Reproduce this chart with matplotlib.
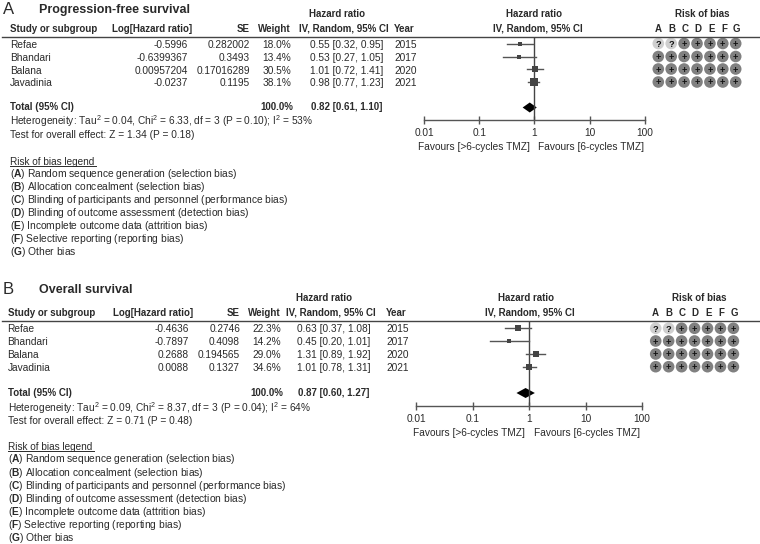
import matplotlib
matplotlib.use("Agg")
import matplotlib.pyplot as plt
from matplotlib.patches import Circle

plt.rcParams['font.family'] = ['Liberation Sans', 'DejaVu Sans']
plt.rcParams['mathtext.fontset'] = 'custom'
plt.rcParams['mathtext.rm'] = 'Liberation Sans'
plt.rcParams['mathtext.bf'] = 'Liberation Sans:bold'
plt.rcParams['mathtext.default'] = 'regular'

studies = ["Refae", "Bhandari", "Balana", "Javadinia"]
years = ["2015", "2017", "2020", "2021"]

pfs_log = ["-0.5996", "-0.6399367", "0.00957204", "-0.0237"]
pfs_se = ["0.282002", "0.3493", "0.17016289", "0.1195"]
pfs_weight = [18.0, 13.4, 30.5, 38.1]
pfs_hr = [0.55, 0.53, 1.01, 0.98]
pfs_lo = [0.32, 0.27, 0.72, 0.77]
pfs_hi = [0.95, 1.05, 1.41, 1.23]
pfs_total = [0.82, 0.61, 1.10]
pfs_het = r"Heterogeneity: Tau$^2$ = 0.04, Chi$^2$ = 6.33, df = 3 (P = 0.10); I$^2$ = 53%"
pfs_test = "Test for overall effect: Z = 1.34 (P = 0.18)"

os_log = ["-0.4636", "-0.7897", "0.2688", "0.0088"]
os_se = ["0.2746", "0.4098", "0.194565", "0.1327"]
os_weight = [22.3, 14.2, 29.0, 34.6]
os_hr = [0.63, 0.45, 1.31, 1.01]
os_lo = [0.37, 0.20, 0.89, 0.78]
os_hi = [1.08, 1.01, 1.92, 1.31]
os_total = [0.87, 0.60, 1.27]
os_het = r"Heterogeneity: Tau$^2$ = 0.09, Chi$^2$ = 8.37, df = 3 (P = 0.04); I$^2$ = 64%"
os_test = "Test for overall effect: Z = 0.71 (P = 0.48)"

rob_letters = ["A", "B", "C", "D", "E", "F", "G"]
rob_rows = ["??+++++", "+++++++", "+++++++", "+++++++"]
legend_items = [
    ("A", "Random sequence generation (selection bias)"),
    ("B", "Allocation concealment (selection bias)"),
    ("C", "Blinding of participants and personnel (performance bias)"),
    ("D", "Blinding of outcome assessment (detection bias)"),
    ("E", "Incomplete outcome data (attrition bias)"),
    ("F", "Selective reporting (reporting bias)"),
    ("G", "Other bias"),
]
ticks = [0.01, 0.1, 1, 10, 100]
tick_labels = ["0.01", "0.1", "1", "10", "100"]

W, H = 760, 544
TXT = "#2a2a2a"
FS = 7.3
BOLD_FS = 7.05
LEG_FS = 7.4

fig = plt.figure(figsize=(W / 100, H / 100), dpi=100)
base = fig.add_axes([0, 0, 1, 1])
base.set_xlim(0, W)
base.set_ylim(H, 0)
base.axis("off")


def put(x, y, s, ha="left", bold=False, size=None):
    if size is None:
        size = BOLD_FS if bold else FS
    base.text(x, y, s, ha=ha, va="center", fontsize=size, color=TXT,
              fontweight="bold" if bold else "normal")


def panel(letter, title, log_hr, se, weight, hr, lo, hi, total, het, test, p):
    put(3, p["title_y"], letter, size=12)
    put(39, p["title_y"], title, bold=True, size=9.0)

    # table headers
    hy = p["head_y"]
    put(p["study_x"], hy, "Study or subgroup", bold=True)
    put(p["log_x"] + 4, hy, "Log[Hazard ratio]", ha="right", bold=True)
    put(p["se_x"], hy, "SE", ha="right", bold=True)
    put(p["wt_x"], hy, "Weight", ha="right", bold=True)
    put(p["hr_x"] - 10, p["top_y"], "Hazard ratio", ha="center", bold=True)
    put(p["hr_x"] - 3, hy, "IV, Random, 95% CI", ha="center", bold=True)
    put(p["yr_x"], hy, "Year", bold=True)
    put(p["fhr_x"] - 2, p["top_y"], "Hazard ratio", ha="center", bold=True)
    put(p["fhr_x"] + 2, hy, "IV, Random, 95% CI", ha="center", bold=True)
    put(p["rob_x"], p["top_y"], "Risk of bias", ha="center", bold=True)
    base.plot([2, W], [p["line_y"]] * 2, color="#444444", lw=1.0)

    # study rows
    for i, name in enumerate(studies):
        y = p["rows"][i] + 1
        put(p["study_x"], y, name)
        put(p["log_x"], y, log_hr[i], ha="right")
        put(p["se_x"], y, se[i], ha="right")
        put(p["wt_x"], y, "%.1f%%" % weight[i], ha="right")
        put(p["hr_x"], y, "%.2f [%.2f, %.2f]" % (hr[i], lo[i], hi[i]), ha="center")
        put(p["yr_x"], y, years[i])

    # total and notes
    ty = p["total_y"]
    put(p["study_x"], ty, "Total (95% CI)", bold=True)
    put(p["wt_x"] + 2, ty, "100.0%", ha="right", bold=True)
    put(p["hr_x"], ty, "%.2f [%.2f, %.2f]" % tuple(total), ha="center", bold=True)
    put(p["study_x"], p["het_y"], het)
    put(p["study_x"], p["test_y"], test)

    # risk of bias grid
    for x, s in zip(p["letter_x"], rob_letters):
        put(x, hy, s, ha="center", bold=True)
    for r, row in enumerate(rob_rows):
        for c, s in enumerate(row):
            x = p["circ_x"] + c * p["circ_dx"]
            y = p["circ_y"][r]
            col = "#cfcfcf" if s == "?" else "#808080"
            base.add_patch(Circle((x, y), 5.8, fc=col, ec="none"))
            base.text(x, y, s, ha="center", va="center_baseline", fontsize=6.6,
                      fontweight="bold", color="#111111")

    # forest plot
    left = p["x001"] / W
    width = (p["x100"] - p["x001"]) / W
    bottom = 1 - p["axis_y"] / H
    height = (p["axis_y"] - p["line_y"]) / H
    ax = fig.add_axes([left, bottom, width, height])
    ax.patch.set_alpha(0)
    ax.set_xscale("log")
    ax.set_xlim(0.01, 100)
    ax.set_ylim(p["axis_y"], p["line_y"])
    for s in ["top", "left", "right"]:
        ax.spines[s].set_visible(False)
    ax.spines["bottom"].set_color("#555555")
    ax.spines["bottom"].set_linewidth(1.0)
    ax.set_yticks([])
    ax.set_xticks(ticks)
    ax.set_xticklabels(tick_labels, fontsize=FS, color=TXT)
    ax.minorticks_off()
    ax.tick_params(axis="x", direction="inout", length=6, width=1.0,
                   color="#555555", pad=2.5)
    ax.axvline(1, color="#444444", lw=1.0)
    for i in range(4):
        y = p["rows"][i]
        ax.plot([lo[i], hi[i]], [y, y], color="#555555", lw=1.0)
        ax.plot(hr[i], y, marker="s", color="#444444", ms=1.6 + weight[i] * 0.095,
                mew=0)
    ax.fill([total[1], total[0], total[2], total[0]],
            [ty, ty - 5, ty, ty + 5], color="black", lw=0)

    put(p["fav_l"], p["fav_y"], "Favours [>6-cycles TMZ]")
    put(p["fav_r"], p["fav_y"], "Favours [6-cycles TMZ]")

    # risk of bias legend
    ly = p["leg_y"]
    sx = p["study_x"]
    put(sx, ly, "Risk of bias legend", size=7.2)
    base.plot([sx, sx + 86], [ly + 4, ly + 4], color=TXT, lw=0.7)
    for i, (k, s) in enumerate(legend_items):
        put(sx, p["leg_rows"][i], r"($\mathbf{%s}$) %s" % (k, s), size=LEG_FS)


pfs_layout = dict(
    title_y=9.5, top_y=14, head_y=28.5, line_y=37,
    study_x=10, log_x=188, se_x=250, wt_x=291, hr_x=347, yr_x=394,
    fhr_x=536, rob_x=702,
    rows=[44, 57, 69.5, 82], total_y=107.5, het_y=121, test_y=134.5,
    letter_x=[658.7, 672, 684.7, 697.7, 711.3, 724, 736],
    circ_x=658.3, circ_dx=12.9, circ_y=[43.5, 56.5, 69, 82],
    x001=424, x100=645, axis_y=120.5,
    fav_l=418, fav_r=537.6, fav_y=147,
    leg_y=162, leg_rows=[174, 187, 200, 213, 226.3, 239, 252.3],
)
os_layout = dict(
    title_y=290, top_y=298, head_y=312.7, line_y=321,
    study_x=7.5, log_x=189, se_x=240, wt_x=281, hr_x=334, yr_x=386,
    fhr_x=528, rob_x=699,
    rows=[328, 341, 354, 367], total_y=393, het_y=408, test_y=421,
    letter_x=[655.7, 669.3, 682, 695, 708.3, 721.3, 734.7],
    circ_x=655.7, circ_dx=12.95, circ_y=[328.3, 341, 354, 366.7],
    x001=416, x100=642, axis_y=406,
    fav_l=413, fav_r=534, fav_y=432.7,
    leg_y=447.3, leg_rows=[459.3, 472.7, 486, 499, 512, 525, 538.3],
)

panel("A", "Progression-free survival", pfs_log, pfs_se, pfs_weight, pfs_hr,
      pfs_lo, pfs_hi, pfs_total, pfs_het, pfs_test, pfs_layout)
panel("B", "Overall survival", os_log, os_se, os_weight, os_hr,
      os_lo, os_hi, os_total, os_het, os_test, os_layout)

fig.savefig("out.png", dpi=100)
